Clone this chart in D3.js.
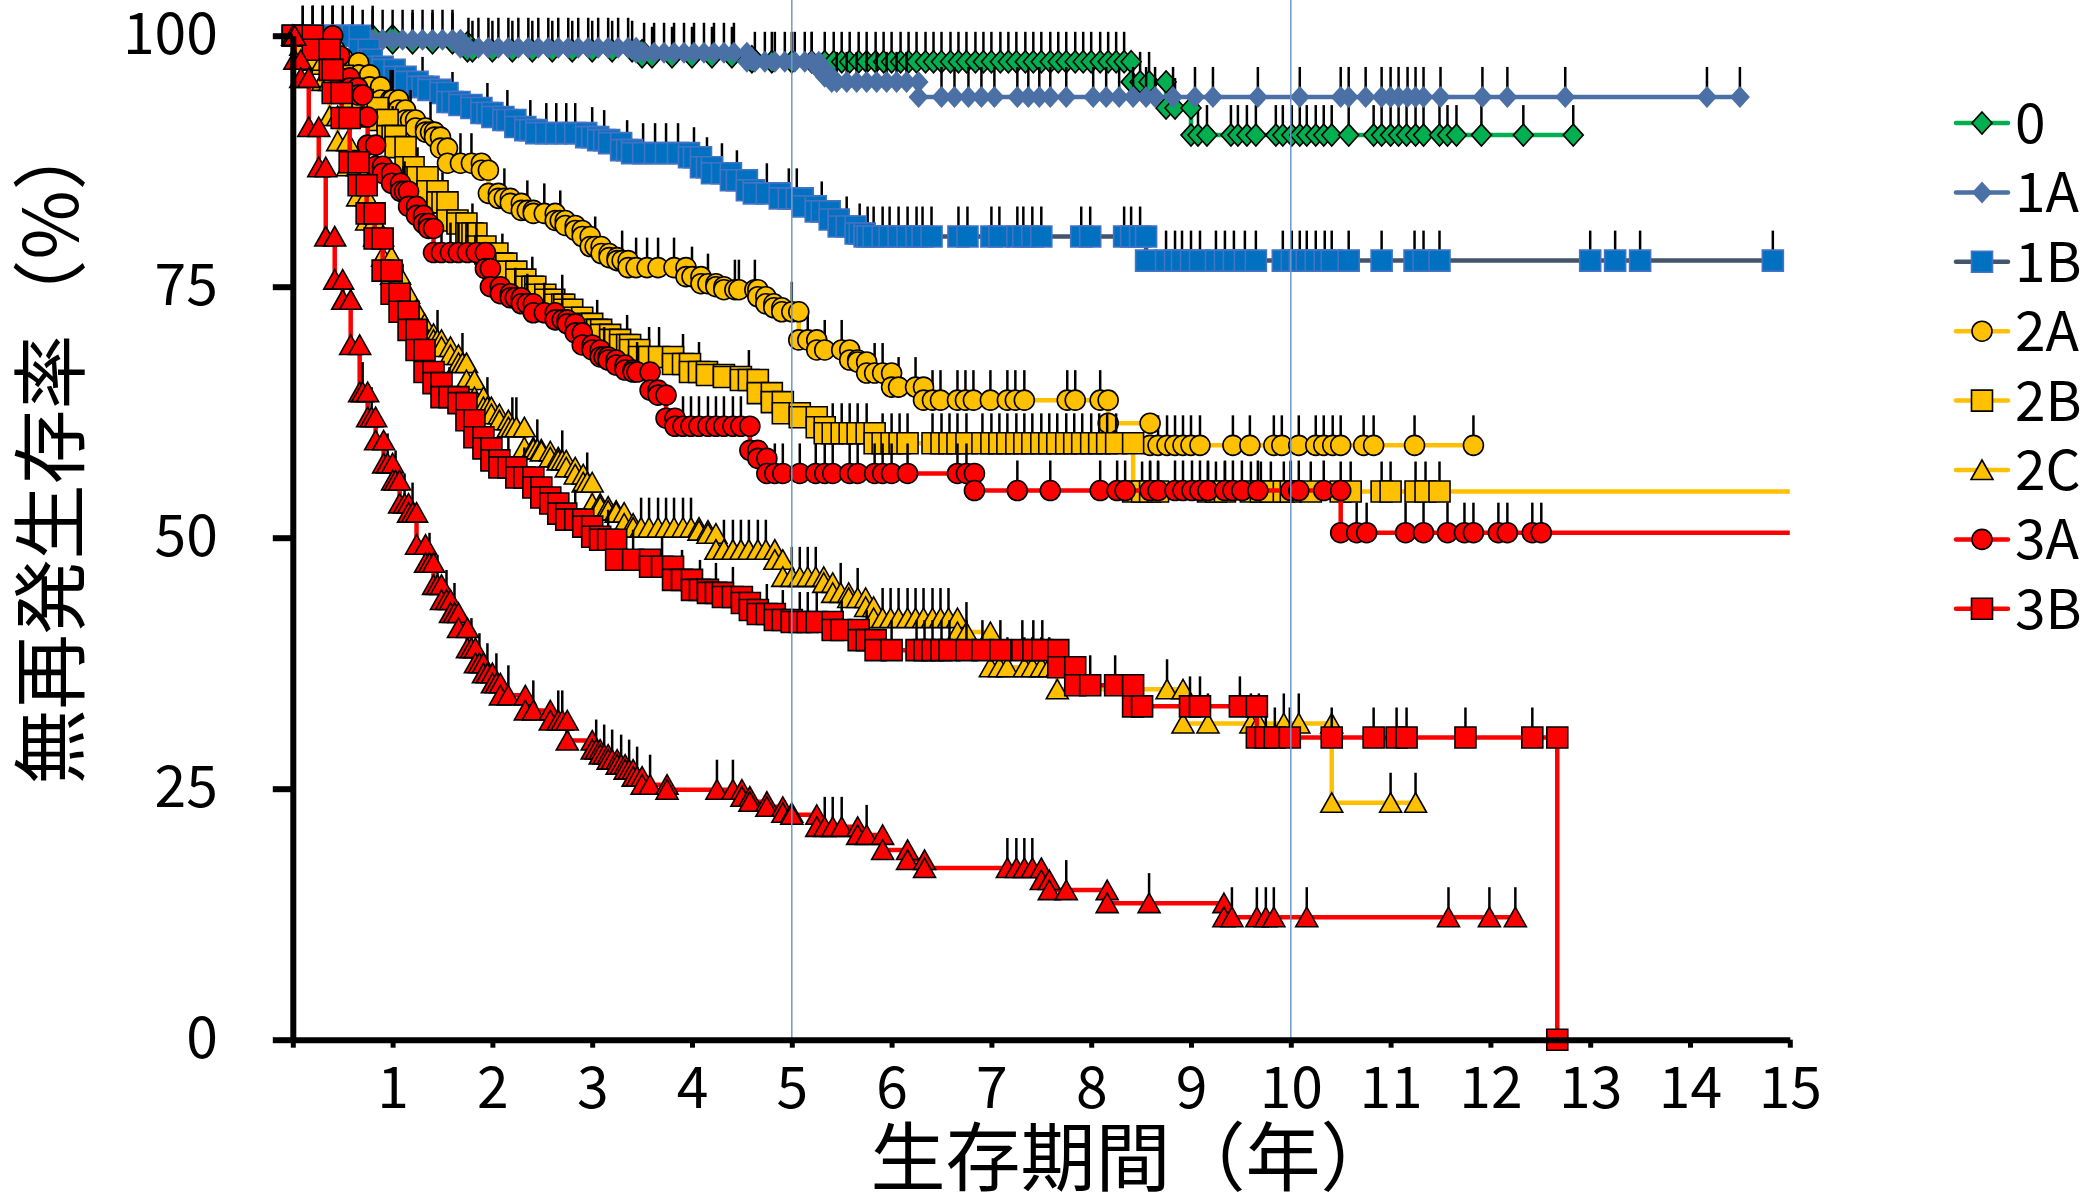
<!DOCTYPE html>
<html><head><meta charset="utf-8">
<script src="https://cdn.jsdelivr.net/npm/d3@7"></script>
<style>html,body{margin:0;padding:0;background:#fff;}svg{display:block;}</style>
</head><body>
<svg id="chart" width="2087" height="1194"></svg>
<script>
// ---------------- DATA ----------------
const seriesNames = ["0","1A","1B","2A","2B","2C","3A","3B","3C"];
const legendNames = ["0","1A","1B","2A","2B","2C","3A","3B"];
const xTicks = [0,1,2,3,4,5,6,7,8,9,10,11,12,13,14,15];
const yTicks = [0,25,50,75,100];
const refYears = [5,10];
const xTitle = "生存期間（年）";
const yTitle = "無再発生存率（%）";

// events: [time, survival after event]; censors: times
const ev_0 = [[1.0,99.3],[1.75,98.5],[3.5,97.9],[4.6,97.4],[8.40,95.4],[8.75,92.8],[9.0,90.1]];
const cen_0 = [0.2,0.4,0.6,0.8,1.2,1.4,1.6,1.8,2.0,2.2,2.4,2.6,2.8,3.0,3.2,3.4,3.6,3.8,4.0,4.2,4.4,4.8,5.0,5.2,5.33,5.42,5.5,5.58,5.67,5.75,5.84,5.92,6.0,6.09,6.17,6.25,6.34,6.42,6.5,6.59,6.67,6.75,6.84,6.92,7.0,7.09,7.17,7.25,7.34,7.42,7.5,7.59,7.67,7.75,7.84,7.92,8.0,8.09,8.17,8.25,8.33,8.49,8.58,8.84,9.07,9.16,9.4,9.47,9.56,9.65,9.85,9.92,10.01,10.09,10.16,10.25,10.33,10.41,10.58,10.83,10.91,11.0,11.08,11.16,11.25,11.33,11.49,11.57,11.66,11.91,12.33,12.83];

const ev_1A = [[0.5,99.6],[1.68,98.8],[3.44,98.3],[4.55,97.4],[5.27,96.6],[5.33,95.9],[5.4,95.4],[6.27,93.9]];
const cen_1A = [0.1,0.2,0.3,0.4,0.6,0.7,0.8,0.9,1.0,1.1,1.2,1.3,1.4,1.5,1.6,1.76,1.86,1.96,2.06,2.16,2.26,2.36,2.46,2.56,2.66,2.76,2.86,2.96,3.06,3.16,3.26,3.36,3.52,3.62,3.72,3.82,3.92,4.02,4.12,4.22,4.32,4.42,4.63,4.73,4.83,4.93,5.03,5.13,5.2,5.45,5.55,5.65,5.75,5.85,5.95,6.05,6.15,6.5,6.63,6.77,6.9,7.03,7.26,7.37,7.48,7.59,7.75,8.02,8.15,8.28,8.42,8.55,8.64,8.82,9.04,9.22,9.67,10.09,10.5,10.58,10.75,10.91,11.0,11.08,11.17,11.25,11.33,11.5,11.92,12.17,12.75,14.17,14.5];

const ev_1B = [[0.67,98.6],[0.76,97.6],[0.79,96.9],[0.9,96.6],[1.02,95.9],[1.13,95.4],[1.25,94.9],[1.36,94.6],[1.48,94.3],[1.55,93.4],[1.67,93.1],[1.79,92.8],[1.89,92.3],[2.0,91.9],[2.11,91.6],[2.23,90.9],[2.33,90.6],[2.44,90.3],[2.94,89.9],[3.06,89.6],[3.17,89.3],[3.29,88.6],[3.40,88.3],[3.97,87.9],[4.09,86.9],[4.2,86.3],[4.39,85.6],[4.55,84.6],[4.62,84.3],[4.88,83.8],[5.11,83.0],[5.24,82.5],[5.38,81.7],[5.47,81.0],[5.64,80.3],[5.73,80.0],[8.55,77.6]];
const cen_1B = [0.1,0.2,0.3,0.4,0.5,0.6,1.3,1.6,1.95,2.15,2.38,2.54,2.64,2.74,2.83,3.0,3.12,3.35,3.51,3.63,3.74,3.86,4.02,4.15,4.3,4.45,4.75,4.97,5.05,5.3,5.55,5.68,5.76,5.82,5.91,5.98,6.07,6.16,6.25,6.31,6.4,6.67,6.76,7.0,7.08,7.26,7.32,7.41,7.5,7.9,7.99,8.33,8.4,8.49,8.75,8.84,8.91,9.0,9.09,9.25,9.34,9.43,9.54,9.65,9.92,10.01,10.09,10.16,10.25,10.34,10.41,10.58,10.91,11.24,11.33,11.49,13.0,13.25,13.5,14.83];

const ev_2A = [[0.15,99.5],[0.3,98.6],[0.42,97.8],[0.5,97.3],[0.66,96.1],[0.77,94.9],[0.88,93.6],[1.06,92.6],[1.13,91.6],[1.23,90.8],[1.33,90.4],[1.42,89.9],[1.48,88.8],[1.55,87.3],[1.89,86.6],[1.96,84.3],[2.06,83.8],[2.18,83.3],[2.29,82.6],[2.41,82.3],[2.63,81.6],[2.73,81.1],[2.83,80.6],[2.9,80.0],[2.98,79.0],[3.09,78.3],[3.17,77.9],[3.25,77.6],[3.36,76.9],[3.94,76.0],[4.09,75.3],[4.24,75.0],[4.32,74.7],[4.66,74.0],[4.74,73.3],[4.82,72.9],[4.9,72.5],[5.07,69.7],[5.25,68.7],[5.58,67.7],[5.66,67.5],[5.75,66.4],[6.0,65.0],[6.32,63.7],[8.17,61.4],[8.59,59.2]];
const cen_2A = [0.98,1.0,1.18,1.38,1.68,1.79,2.12,2.35,2.52,2.68,3.03,3.3,3.44,3.55,3.66,3.82,4.0,4.16,4.43,4.47,4.63,5.0,5.16,5.33,5.5,5.83,5.91,6.07,6.24,6.41,6.49,6.66,6.74,6.82,6.99,7.16,7.24,7.33,7.76,7.84,8.09,8.67,8.76,8.84,8.92,9.0,9.09,9.42,9.59,9.83,9.91,10.08,10.25,10.33,10.42,10.5,10.73,10.83,11.24,11.83];

const ev_2B = [[0.1,99.5],[0.2,98.5],[0.3,97.2],[0.4,96.0],[0.5,94.7],[0.6,93.6],[0.7,92.8],[0.85,91.6],[0.95,90.0],[1.03,88.9],[1.13,86.9],[1.21,85.9],[1.35,84.5],[1.45,83.4],[1.55,81.6],[1.65,81.3],[1.74,80.3],[1.84,79.0],[1.93,78.3],[2.05,77.3],[2.14,76.5],[2.24,75.7],[2.33,75.0],[2.43,74.2],[2.53,73.7],[2.62,73.2],[2.72,72.7],[2.8,71.9],[2.9,71.3],[3.0,70.7],[3.09,70.2],[3.18,69.7],[3.28,69.2],[3.38,68.7],[3.47,68.0],[3.81,67.3],[3.98,66.5],[4.15,66.2],[4.32,66.0],[4.49,65.7],[4.66,64.4],[4.8,63.5],[4.91,62.4],[5.08,62.0],[5.25,61.0],[5.33,60.4],[5.83,59.4],[8.42,54.6]];
const cen_2B = [1.0,1.25,1.5,1.8,2.1,2.4,2.7,3.05,3.35,3.57,3.67,3.91,4.07,4.57,5.41,5.5,5.58,5.66,5.75,5.91,6.0,6.08,6.16,6.41,6.5,6.58,6.66,6.75,6.91,7.0,7.08,7.16,7.25,7.33,7.41,7.5,7.58,7.66,7.75,7.83,7.91,8.0,8.08,8.16,8.25,8.51,8.59,8.67,9.17,9.25,9.34,9.6,9.7,9.8,9.93,10.0,10.2,10.5,10.6,10.91,11.0,11.25,11.35,11.49];

const ev_2C = [[0.08,99.0],[0.2,97.5],[0.3,95.5],[0.37,92.0],[0.45,89.5],[0.55,87.0],[0.65,84.0],[0.74,81.6],[0.82,80.0],[0.9,78.0],[0.99,76.2],[1.07,74.3],[1.16,72.7],[1.24,71.3],[1.32,70.3],[1.41,69.7],[1.49,69.0],[1.58,68.2],[1.66,67.4],[1.74,65.7],[1.82,64.0],[1.91,63.0],[1.99,62.3],[2.07,61.7],[2.16,61.0],[2.32,59.0],[2.41,58.8],[2.49,58.6],[2.58,58.0],[2.66,57.7],[2.74,57.0],[2.83,56.3],[2.91,55.5],[3.0,53.4],[3.08,53.1],[3.16,52.7],[3.24,52.5],[3.32,51.4],[3.41,51.0],[4.07,50.7],[4.16,50.4],[4.24,48.8],[4.83,47.8],[4.91,46.1],[5.32,45.5],[5.41,44.5],[5.57,44.0],[5.74,43.1],[5.82,42.0],[6.66,40.6],[6.99,37.1],[7.66,34.9],[8.92,31.5],[10.41,23.6]];
const cen_2C = [1.1,1.45,1.7,1.95,2.2,2.24,2.45,2.7,2.95,3.49,3.57,3.66,3.74,3.82,3.91,3.99,4.32,4.41,4.49,4.57,4.66,4.74,5.0,5.08,5.16,5.24,5.49,5.66,5.91,5.99,6.07,6.16,6.24,6.32,6.41,6.49,6.57,6.75,7.08,7.16,7.33,7.41,7.5,7.58,8.76,9.17,9.6,9.68,9.93,10.08,11.0,11.25];

const ev_3A = [[0.4,98.0],[0.47,95.8],[0.57,94.8],[0.65,94.1],[0.7,91.9],[0.75,89.1],[0.83,87.0],[0.9,86.3],[0.99,85.3],[1.08,84.5],[1.16,83.0],[1.24,82.1],[1.31,81.3],[1.36,80.8],[1.41,78.4],[1.93,76.8],[1.98,75.0],[2.08,74.3],[2.18,73.9],[2.29,73.3],[2.41,72.4],[2.63,71.7],[2.75,71.3],[2.83,70.4],[2.9,69.2],[3.0,68.7],[3.08,68.0],[3.16,67.7],[3.24,67.2],[3.33,66.7],[3.41,66.5],[3.58,64.7],[3.66,64.2],[3.74,61.9],[3.83,61.1],[4.58,58.7],[4.66,57.9],[4.75,56.4],[6.83,54.7],[10.5,50.5]];
const cen_3A = [1.12,1.49,1.58,1.66,1.75,1.84,2.23,2.35,2.52,2.7,3.12,3.45,3.91,3.99,4.07,4.16,4.24,4.32,4.41,4.49,4.83,4.91,5.08,5.24,5.33,5.41,5.58,5.66,5.83,5.91,6.0,6.16,6.66,6.75,7.26,7.59,8.09,8.26,8.34,8.59,8.67,8.84,8.92,9.01,9.09,9.17,9.34,9.42,9.51,9.67,10.0,10.08,10.33,10.66,10.76,11.15,11.33,11.57,11.74,11.83,12.08,12.17,12.42,12.51];

const ev_3B = [[0.2,98.6],[0.37,96.6],[0.40,94.3],[0.49,91.8],[0.57,87.4],[0.66,85.1],[0.74,82.3],[0.82,79.8],[0.90,76.6],[0.99,74.3],[1.07,72.5],[1.16,70.7],[1.24,68.7],[1.32,66.5],[1.41,65.4],[1.49,64.0],[1.66,63.4],[1.74,61.7],[1.82,60.0],[1.91,58.9],[1.99,57.7],[2.07,57.0],[2.24,56.0],[2.41,55.0],[2.49,54.0],[2.58,53.4],[2.66,52.4],[2.74,51.8],[2.91,51.1],[3.0,50.1],[3.08,49.8],[3.24,47.8],[3.58,47.1],[3.81,45.8],[4.0,44.8],[4.16,44.5],[4.31,44.1],[4.5,43.5],[4.58,42.8],[4.66,42.4],[4.83,41.8],[5.0,41.6],[5.41,40.8],[5.67,39.8],[5.84,38.8],[7.67,37.1],[7.84,35.3],[8.42,33.2],[9.66,30.1],[12.67,0]];
const cen_3B = [1.57,2.16,2.32,2.83,3.16,3.41,3.7,3.9,4.08,4.24,4.41,4.75,4.91,5.08,5.16,5.25,5.5,5.75,6.0,6.25,6.33,6.41,6.5,6.58,6.75,6.91,7.09,7.31,7.42,7.51,7.99,8.24,8.51,8.99,9.09,9.49,9.75,9.84,9.99,10.41,10.83,11.06,11.16,11.75,12.42];

const ev_3C = [[0.02,97.6],[0.08,95.8],[0.16,90.9],[0.26,86.9],[0.33,80.0],[0.42,75.7],[0.5,73.7],[0.58,69.2],[0.67,64.5],[0.75,62.0],[0.83,59.7],[0.91,57.4],[1.0,55.7],[1.07,53.4],[1.16,52.5],[1.24,49.3],[1.33,47.5],[1.41,45.3],[1.49,43.8],[1.58,42.5],[1.66,41.0],[1.75,39.0],[1.83,37.5],[1.91,36.5],[2.0,35.5],[2.08,34.3],[2.33,32.8],[2.58,31.8],[2.75,29.8],[3.0,28.9],[3.08,28.4],[3.16,27.9],[3.25,27.4],[3.33,26.9],[3.41,26.2],[3.5,25.4],[3.75,24.9],[4.5,24.2],[4.58,23.7],[4.75,23.2],[4.91,22.6],[5.0,22.4],[5.25,21.2],[5.66,20.4],[5.91,18.9],[6.16,17.9],[6.33,17.1],[7.5,15.9],[7.58,14.9],[8.16,13.6],[9.33,12.2]];
const cen_3C = [0.7,0.79,0.95,1.03,1.12,1.2,1.37,1.45,1.54,1.62,1.79,1.87,1.95,2.04,2.16,2.41,2.66,2.7,3.04,3.12,3.2,3.29,3.37,3.45,3.58,4.25,4.41,5.33,5.41,5.5,5.75,7.16,7.25,7.33,7.41,7.75,8.58,9.41,9.66,9.75,9.83,10.16,11.58,11.99,12.25];

// line continues (without marker) to this time
const lineExtendTo = [null,null,null,null,15,null,15,null,null];

const eventsList = [ev_0,ev_1A,ev_1B,ev_2A,ev_2B,ev_2C,ev_3A,ev_3B,ev_3C];
const censorList = [cen_0,cen_1A,cen_1B,cen_2A,cen_2B,cen_2C,cen_3A,cen_3B,cen_3C];

// ---------------- STYLE ----------------
const styles = [
  {line:"#00B050", shape:"diamond", fill:"#00B050", stroke:"#000"},
  {line:"#4A70A6", shape:"diamond", fill:"#4A70A6", stroke:"none"},
  {line:"#44546A", shape:"square", fill:"#0070C0", stroke:"#4472C4"},
  {line:"#FFC000", shape:"circle", fill:"#FFC000", stroke:"#000"},
  {line:"#FFC000", shape:"square", fill:"#FFC000", stroke:"#000"},
  {line:"#FFC000", shape:"triangle", fill:"#FFC000", stroke:"#000"},
  {line:"#FF0000", shape:"circle", fill:"#FF0000", stroke:"#000"},
  {line:"#FF0000", shape:"square", fill:"#FF0000", stroke:"#000"},
  {line:"#FF0000", shape:"triangle", fill:"#FF0000", stroke:"#000"}
];
const FONT = "'Noto Sans CJK JP','Noto Sans',sans-serif";

const svg = d3.select("#chart");
const x = d3.scaleLinear().domain([0,15]).range([292.8,1789.8]);
const y = d3.scaleLinear().domain([0,100]).range([1039.7,35.7]);

function markerPath(shape){
  if(shape==="diamond") return "M0,-11L10,0L0,11L-10,0Z";
  if(shape==="square") return "M-10.5,-10.5H10.5V10.5H-10.5Z";
  if(shape==="triangle") return "M0,-10L11,9.5H-11Z";
  return null;
}
function drawMarker(g, shape, st, px, py){
  if(shape==="circle"){
    g.append("circle").attr("cx",px).attr("cy",py).attr("r",10)
      .attr("fill",st.fill).attr("stroke",st.stroke).attr("stroke-width",1.6);
  } else {
    g.append("path").attr("d",markerPath(shape)).attr("transform",`translate(${px},${py})`)
      .attr("fill",st.fill).attr("stroke",st.stroke).attr("stroke-width",1.6).attr("stroke-linejoin","miter");
  }
}
function buildPoints(ev, cen){
  const items = ev.map(d=>({t:d[0],v:d[1],e:true})).concat(cen.map(t=>({t:t,e:false})));
  items.sort((a,b)=>(a.t-b.t)||((a.e?0:1)-(b.e?0:1)));
  let cur = 100; const pts=[{t:0,v:100,c:false}];
  for(const it of items){
    if(it.e){ pts.push({t:it.t,v:cur,c:false}); cur=it.v; pts.push({t:it.t,v:cur,c:false}); }
    else pts.push({t:it.t,v:cur,c:true});
  }
  return pts;
}

const plot = svg.append("g");
const line = d3.line().x(d=>x(d.t)).y(d=>y(d.v));
seriesNames.forEach((name,i)=>{
  const st = styles[i];
  const pts = buildPoints(eventsList[i], censorList[i]);
  const g = plot.append("g").attr("class","series-"+name);
  const linePts = pts.slice();
  if(lineExtendTo[i]!==null) linePts.push({t:lineExtendTo[i], v:pts[pts.length-1].v});
  g.append("path").attr("d",line(linePts)).attr("fill","none").attr("stroke",st.line)
    .attr("stroke-width",4.5).attr("stroke-linejoin","round");
  pts.filter(p=>p.c).forEach(p=>{
    g.append("line").attr("x1",x(p.t)).attr("x2",x(p.t)).attr("y1",y(p.v)).attr("y2",y(p.v)-30)
      .attr("stroke","#000").attr("stroke-width",2.5);
  });
  pts.forEach(p=>drawMarker(g, st.shape, st, x(p.t), y(p.v)));
});

// reference lines
refYears.forEach(t=>{
  svg.append("line").attr("x1",x(t)).attr("x2",x(t)).attr("y1",0).attr("y2",y(0))
    .attr("stroke","#7397CB").attr("stroke-width",1.5);
});

// axes
const yAxis = svg.append("g").attr("transform",`translate(${x(0)},0)`)
  .call(d3.axisLeft(y).tickValues(yTicks).tickSize(20).tickSizeOuter(0).tickPadding(55));
yAxis.select(".domain").attr("stroke","#000").attr("stroke-width",6);
yAxis.selectAll(".tick line").attr("stroke","#000").attr("stroke-width",6);
yAxis.selectAll(".tick text").attr("font-family",FONT).attr("font-size",57).attr("fill","#000");

const xAxis = svg.append("g").attr("transform",`translate(0,${y(0)})`)
  .call(d3.axisBottom(x).tickValues(xTicks).tickSize(8).tickSizeOuter(0).tickPadding(20)
    .tickFormat(d=>d===0?"":String(d)));
xAxis.select(".domain").attr("stroke","#000").attr("stroke-width",6);
xAxis.selectAll(".tick line").attr("stroke","#000").attr("stroke-width",5);
xAxis.selectAll(".tick text").attr("font-family",FONT).attr("font-size",57).attr("fill","#000");

// titles
svg.append("text").attr("x",1133).attr("y",1185).attr("text-anchor","middle")
  .attr("font-family",FONT).attr("font-size",75).attr("fill","#000").text(xTitle);
svg.append("text").attr("transform","translate(78,450) rotate(-90)").attr("text-anchor","middle")
  .attr("font-family",FONT).attr("font-size",75).attr("fill","#000").text(yTitle);

// legend
const lg = svg.append("g");
legendNames.forEach((name,i)=>{
  const st = styles[i];
  const ly = 123 + i*69.4;
  lg.append("line").attr("x1",1956).attr("x2",2008).attr("y1",ly).attr("y2",ly)
    .attr("stroke",st.line).attr("stroke-width",4.5).attr("stroke-linecap","round");
  drawMarker(lg, st.shape, st, 1982, ly);
  lg.append("text").attr("x",2015).attr("y",ly+20).attr("font-family",FONT).attr("font-size",55)
    .attr("fill","#000").text(name);
});
</script>
</body></html>
